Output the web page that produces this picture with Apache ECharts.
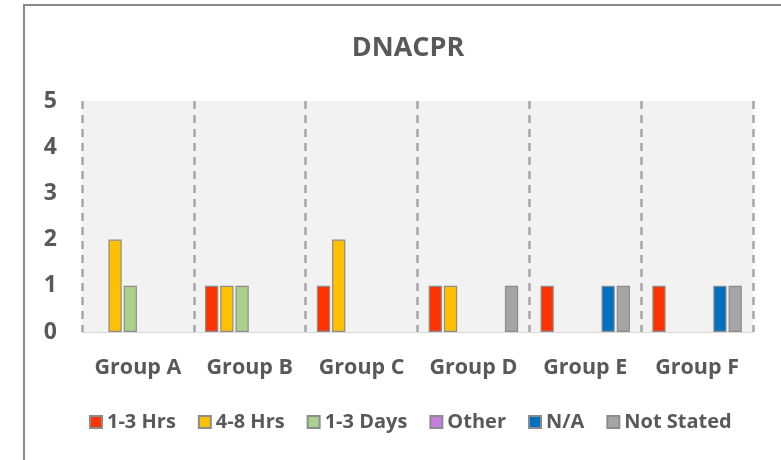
<!DOCTYPE html>
<html>
<head>
<meta charset="utf-8">
<script src="https://cdn.jsdelivr.net/npm/echarts@6/dist/echarts.min.js"></script>
<style>
  html, body { margin: 0; padding: 0; background: #fff; }
  #chart { width: 781px; height: 460px; }
</style>
</head>
<body>
<div id="chart"></div>
<script>
// categories and values
var categories = ['Group A', 'Group B', 'Group C', 'Group D', 'Group E', 'Group F'];
var seriesNames = ['1-3 Hrs', '4-8 Hrs', '1-3 Days', 'Other', 'N/A', 'Not Stated'];
var hrs1to3   = [0, 1, 1, 1, 1, 1];
var hrs4to8   = [2, 1, 2, 1, 0, 0];
var days1to3  = [1, 1, 0, 0, 0, 0];
var other     = [0, 0, 0, 0, 0, 0];
var notAppl   = [0, 0, 0, 0, 1, 1];
var notStated = [0, 0, 0, 1, 1, 1];
var yTicks = [0, 1, 2, 3, 4, 5];

var colors = ['#FF3300', '#FFC000', '#A9D18E', '#C47FE0', '#0070C0', '#A5A5A5'];
var allValues = [hrs1to3, hrs4to8, days1to3, other, notAppl, notStated];
var txt = '#595959';
var font = '"Open Sans", "Liberation Sans", sans-serif';

var chart = echarts.init(document.getElementById('chart'));

var series = [];
for (var i = 0; i < seriesNames.length; i++) {
  series.push({
    name: seriesNames[i],
    type: 'bar',
    barGap: '15%',
    barCategoryGap: '20%',
    itemStyle: { color: colors[i], borderColor: '#8c8c8c', borderWidth: 1.2 },
    // excel leaves zero bars out
    data: allValues[i].map(function (v) { return v === 0 ? null : v; })
  });
}

chart.setOption({
  backgroundColor: '#fff',
  animation: false,
  color: colors,
  title: {
    text: 'DNACPR',
    left: 403,
    textAlign: 'center',
    top: 30,
    textStyle: { color: txt, fontFamily: font, fontWeight: 'bold', fontSize: 27 }
  },
  graphic: [{
    type: 'rect',
    shape: { x: 24, y: 5, width: 800, height: 500 },
    style: { fill: null, stroke: '#898989', lineWidth: 2 },
    silent: true
  }],
  legend: {
    data: seriesNames,
    left: 84,
    top: 407,
    itemWidth: 12,
    itemHeight: 12,
    itemGap: 22,
    icon: 'rect',
    textStyle: { color: txt, fontFamily: font, fontWeight: 'bold', fontSize: 20 }
  },
  grid: {
    left: 82, right: 28, top: 101, bottom: 128,
    show: true, backgroundColor: '#f2f2f2', borderWidth: 0
  },
  xAxis: {
    type: 'category',
    data: categories,
    axisTick: { show: false, interval: 0 },
    axisLine: { lineStyle: { color: '#d9d9d9', width: 1 } },
    splitLine: {
      show: true,
      interval: 0,
      lineStyle: { color: '#a6a6a6', width: 2.5, type: [8, 6] }
    },
    axisLabel: { interval: 0, color: txt, fontFamily: font, fontWeight: 'bold', fontSize: 21.5, margin: 25 }
  },
  yAxis: {
    type: 'value',
    min: yTicks[0],
    max: yTicks[yTicks.length - 1],
    interval: 1,
    splitLine: { show: false },
    axisLine: { show: false },
    axisTick: { show: false },
    axisLabel: { color: txt, fontFamily: font, fontWeight: 'bold', fontSize: 23, margin: 25 }
  },
  series: series
});
</script>
</body>
</html>
